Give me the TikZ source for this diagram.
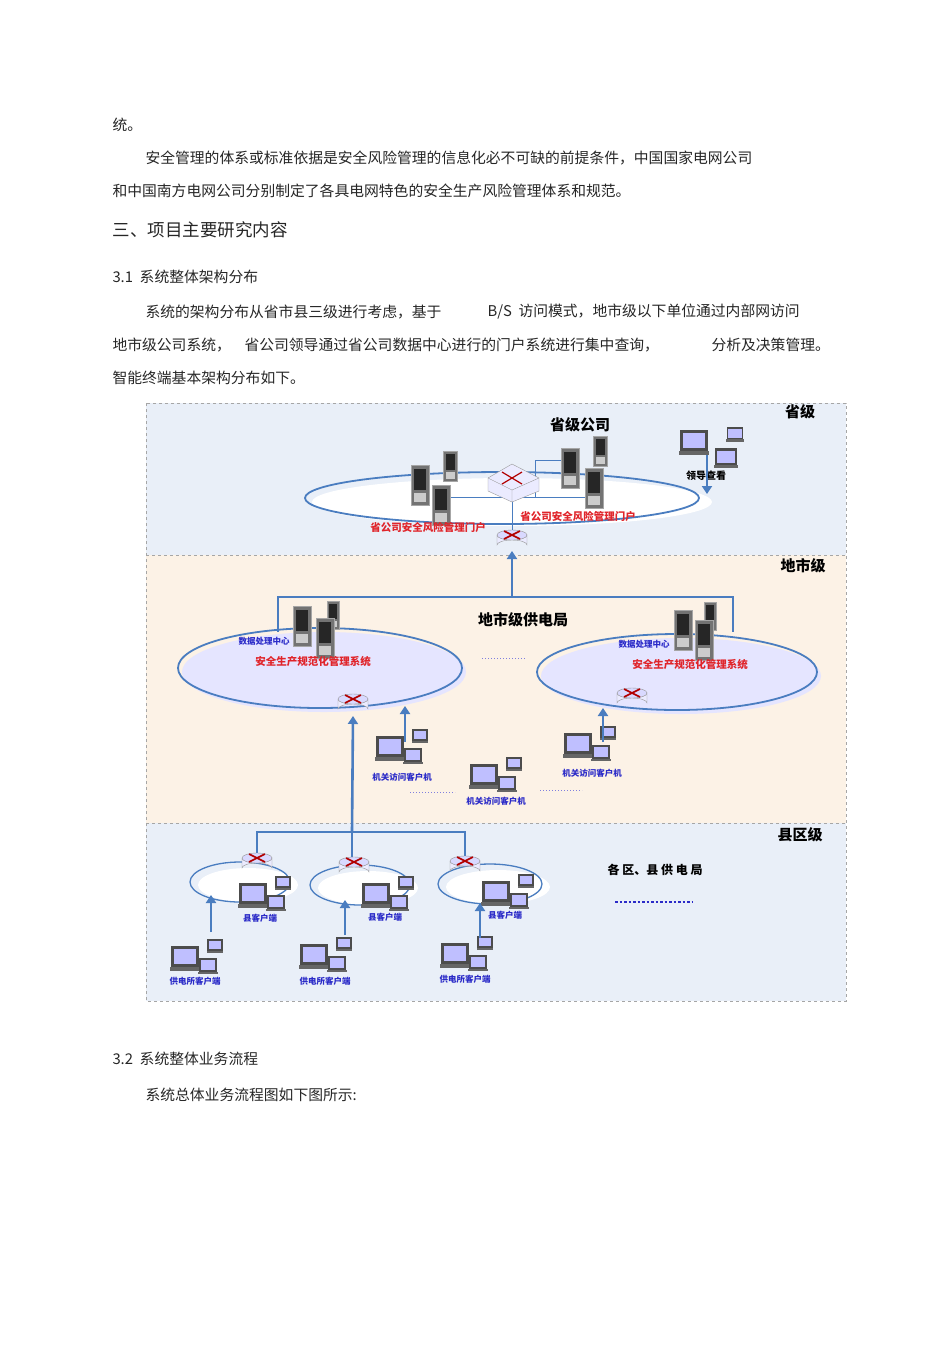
\documentclass[tikz,border=0pt]{standalone}
\usepackage{fontspec}
\setmainfont{Noto Sans CJK SC}
\usetikzlibrary{arrows.meta}
\definecolor{lb}{HTML}{E9EFF8}
\definecolor{lo}{HTML}{FCF2E6}
\definecolor{ln}{HTML}{4A7DC0}
\definecolor{bt}{HTML}{2B2BC8}
\definecolor{rt}{HTML}{E0242A}
\tikzset{
 body/.style={anchor=west,font=\fontsize{14.8pt}{16pt}\selectfont,text=black!85},
 band/.style={draw=gray!70,dashed,line width=0.8pt},
 ring/.style={draw=ln,line width=1.8pt},
 link/.style={draw=ln,line width=1.6pt},
 upar/.style={draw=ln,line width=2.6pt,-{Triangle[length=8pt,width=10pt]}},
 blab/.style={text=bt,font=\bfseries\fontsize{8.5pt}{9pt}\selectfont,inner sep=0pt},
 rlab/.style={text=rt,font=\bfseries\fontsize{10.5pt}{11pt}\selectfont,inner sep=0pt},
 klab/.style={font=\bfseries\fontsize{15pt}{16pt}\selectfont,inner sep=0pt},
 pics/pc/.style={code={
   \fill[black!70] (-14,-12) rectangle (14,9);
   \fill[blue!25!white] (-11,-9) rectangle (11,6);
   \fill[black!60] (-15,9) rectangle (15,13);
 }},
 pics/pcs/.style={code={
   \pic[scale=1] at (-12,0) {pc};
   \pic[scale=0.55] at (18,-12) {pc};
   \pic[scale=0.65] at (11,8) {pc};
 }},
 pics/srv/.style={code={
   \fill[black!55] (-9,-20) rectangle (9,20);
   \fill[black!85] (-6,-16) rectangle (6,5);
   \fill[black!20] (-6,8) rectangle (6,17);
   \draw[black!35] (-9,-20) rectangle (9,20);
 }},
 pics/router/.style={code={
   \fill[blue!8,draw=black!40] (-15,0) -- (-15,10) arc[start angle=180,end angle=360,x radius=15,y radius=5] -- (15,0) arc[start angle=0,end angle=180,x radius=15,y radius=5];
   \fill[blue!15,draw=black!40] (0,0) ellipse[x radius=15,y radius=5];
   \draw[red!70!black,line width=1.6pt] (-8,-4)--(8,4) (-8,4)--(8,-4);
 }},
}
\begin{document}
\begin{tikzpicture}[x=1pt,y=-1pt]
\useasboundingbox (0,0) rectangle (950,1345);
\fill[white] (0,0) rectangle (950,1345);
% page text
\node[body] at (109,125) {统。};
\node[body] at (142,158) {安全管理的体系或标准依据是安全风险管理的信息化必不可缺的前提条件，中国国家电网公司};
\node[body] at (109,191) {和中国南方电网公司分别制定了各具电网特色的安全生产风险管理体系和规范。};
\node[body,font=\fontsize{17.5pt}{19pt}\selectfont] at (109,230) {三、项目主要研究内容};
\node[body] at (109,277) {3.1\ \ 系统整体架构分布};
\node[body] at (142,312) {系统的架构分布从省市县三级进行考虑，基于};
\node[body] at (484,312) {B/S\ \ 访问模式，地市级以下单位通过内部网访问};
\node[body] at (109,345) {地市级公司系统，};
\node[body] at (241,345) {省公司领导通过省公司数据中心进行的门户系统进行集中查询，};
\node[body] at (708,345) {分析及决策管理。};
\node[body] at (109,378) {智能终端基本架构分布如下。};
\node[body] at (109,1059) {3.2\ \ 系统整体业务流程};
\node[body] at (142,1095) {系统总体业务流程图如下图所示:};
% bands
\fill[lb] (146,403) rectangle (846,555);
\fill[lo] (146,555) rectangle (846,823);
\fill[lb] (146,823) rectangle (846,1001);
\draw[band] (146,403) rectangle (846,1001);
\draw[band] (146,555) -- (846,555);
\draw[band] (146,823) -- (846,823);
\node[klab] (tp) at (800,412) {省级};
\node[klab] (tc) at (803,566) {地市级};
\node[klab] (tx) at (800,835) {县区级};
% province
\fill[white] (512,502) ellipse[x radius=200,y radius=24];
\draw[ring] (502,498) ellipse[x radius=197,y radius=26];
\node[klab] (pg) at (580,425) {省级公司};
\draw[ln,line width=0.8pt] (440,497) -- (535,497) -- (535,460) -- (565,460);
\draw[ln,line width=0.8pt] (512,478) -- (512,530);
\draw[ln,line width=0.8pt] (590,497) -- (535,497);
\pic at (420,485) {srv};
\pic[scale=0.75] at (450,466) {srv};
\pic at (441,505) {srv};
\pic at (570,468) {srv};
\pic[scale=0.75] at (600,451) {srv};
\pic at (594,488) {srv};
\fill[blue!8,draw=black!40] (488,478) -- (512,464) -- (539,478) -- (539,491) -- (512,502) -- (488,491) -- cycle;
\draw[blue!20,draw=black!40] (488,478) -- (512,490) -- (539,478) (512,490) -- (512,502);
\draw[red!70!black,line width=1.2pt] (502,472)--(522,484) (502,484)--(522,472);
\node[rlab] (pl1) at (428,527) {省公司安全风险管理门户};
\node[rlab] (pl2) at (578,516) {省公司安全风险管理门户};
\pic at (512,535) {router};
\coordinate (prt) at (512,551);
\pic at (694,442) {pc};
\pic[scale=0.6] at (735,434) {pc};
\pic[scale=0.8] at (726,458) {pc};
\node[blab,text=black,font=\bfseries\fontsize{10pt}{11pt}\selectfont] (ld) at (706,476) {领导查看};
\coordinate (lda) at (707,455);
\coordinate (ldb) at (707,494);
\draw[upar] (lda) -- (ldb);
% city
\coordinate (cup) at (512,597);
\draw[upar] (cup) -- (prt);
\draw[link] (278,632) -- (278,597) -- (733,597) -- (733,632);
\fill[blue!10] (324,672) ellipse[x radius=142,y radius=40];
\draw[ring] (320,668) ellipse[x radius=142,y radius=40];
\fill[blue!10] (681,676) ellipse[x radius=140,y radius=38];
\draw[ring] (677,672) ellipse[x radius=140,y radius=38];
\node[klab] (cg) at (523,620) {地市级供电局};
\pic at (302,626) {srv};
\pic[scale=0.7] at (333,615) {srv};
\pic at (325,638) {srv};
\pic at (683,630) {srv};
\pic[scale=0.7] at (710,616) {srv};
\pic at (704,640) {srv};
\node[blab] at (264,641) {数据处理中心};
\node[blab] at (644,644) {数据处理中心};
\node[rlab] at (313,662) {安全生产规范化管理系统};
\node[rlab] at (690,665) {安全生产规范化管理系统};
\draw[bt!60,dotted,line width=1pt] (482,658) -- (525,658);
\pic at (353,699) {router};
\pic at (632,693) {router};
\coordinate (crl) at (353,716);
\coordinate (crr) at (632,710);
\pic at (402,748) {pcs};
\node[blab] (c1) at (402,777) {机关访问客户机};
\pic at (496,776) {pcs};
\node[blab] (c2) at (496,801) {机关访问客户机};
\pic at (590,745) {pcs};
\node[blab] (c3) at (592,773) {机关访问客户机};
\draw[upar] (405,742) -- (405,706);
\draw[upar] (603,742) -- (603,708);
\draw[bt!60,dotted,line width=1pt] (410,792) -- (455,792) (540,790) -- (582,790);
% county
\coordinate (xj) at (352,832);
\draw[upar] (xj) -- (crl);
\draw[link] (257,855) -- (257,832) -- (465,832) -- (465,858);
\fill[white] (248,885) ellipse[x radius=50,y radius=17];
\draw[ring,line width=1.3pt] (240,882) ellipse[x radius=50,y radius=20];
\fill[white] (368,888) ellipse[x radius=50,y radius=17];
\draw[ring,line width=1.3pt] (360,885) ellipse[x radius=50,y radius=20];
\fill[white] (498,887) ellipse[x radius=52,y radius=17];
\draw[ring,line width=1.3pt] (490,884) ellipse[x radius=52,y radius=20];
\draw[link] (352,832) -- (352,858);
\pic at (257,858) {router};
\pic at (354,862) {router};
\pic at (465,861) {router};
\pic at (265,895) {pcs};
\pic at (388,895) {pcs};
\pic at (508,893) {pcs};
\node[blab] (k1) at (260,918) {县客户端};
\node[blab] (k2) at (385,917) {县客户端};
\node[blab] (k3) at (505,915) {县客户端};
\pic at (197,958) {pcs};
\pic at (326,956) {pcs};
\pic at (467,955) {pcs};
\node[blab] (g1) at (195,981) {供电所客户端};
\node[blab] (g2) at (325,981) {供电所客户端};
\node[blab] (g3) at (465,979) {供电所客户端};
\draw[upar] (211,932) -- (211,895);
\draw[upar] (345,935) -- (345,900);
\draw[upar] (480,938) -- (480,903);
\node[klab,font=\bfseries\fontsize{12pt}{13pt}\selectfont] (xg) at (655,870) {各 区、县 供 电 局};
\draw[bt,dotted,line width=2.5pt] (615,902) -- (692,902);
\end{tikzpicture}
\end{document}
